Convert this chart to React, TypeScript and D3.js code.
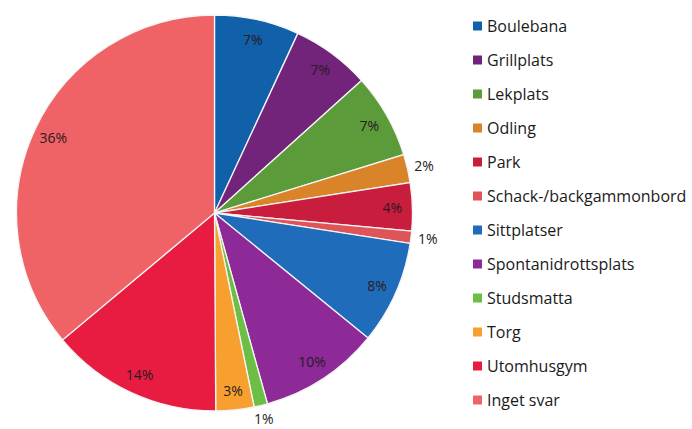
import * as d3 from 'd3';
import { type FC } from 'react';

// Chart data
const categories = [
  'Boulebana',
  'Grillplats',
  'Lekplats',
  'Odling',
  'Park',
  'Schack-/backgammonbord',
  'Sittplatser',
  'Spontanidrottsplats',
  'Studsmatta',
  'Torg',
  'Utomhusgym',
  'Inget svar',
];
const shares = [6.9, 6.4, 6.9, 2.3, 3.9, 1.0, 8.4, 9.8, 1.1, 3.1, 14.0, 36.0];
const labels = ['7%', '7%', '7%', '2%', '4%', '1%', '8%', '10%', '1%', '3%', '14%', '36%'];
const colors = [
  '#1060aa',
  '#72237a',
  '#5c9b3a',
  '#da8429',
  '#c81d3d',
  '#de5459',
  '#1f6dba',
  '#8d2a98',
  '#6cbe45',
  '#f7a02f',
  '#e81c41',
  '#ef6366',
];

interface Slice {
  name: string;
  value: number;
  label: string;
  color: string;
}

const data: Slice[] = categories.map((name, i) => ({
  name,
  value: shares[i],
  label: labels[i],
  color: colors[i],
}));

const WIDTH = 692;
const HEIGHT = 429;
const cx = 214.5;
const cy = 213;
const radius = 198;
const font = '"Open Sans", Lato, sans-serif';

const App: FC = () => {
  const pie = d3
    .pie<Slice>()
    .value((d) => d.value)
    .sort(null);
  const arcs = pie(data);

  const arc = d3.arc<d3.PieArcDatum<Slice>>().innerRadius(0).outerRadius(radius);
  const inner = d3.arc<d3.PieArcDatum<Slice>>().innerRadius(178).outerRadius(178);
  const outer = d3
    .arc<d3.PieArcDatum<Slice>>()
    .innerRadius(radius + 13)
    .outerRadius(radius + 13);

  const legendY = d3
    .scalePoint<string>()
    .domain(categories)
    .range([26, 400]);

  return (
    <div style={{ position: 'absolute', left: 0, top: 0 }}>
      <svg width={WIDTH} height={HEIGHT} style={{ display: 'block', background: '#fff' }}>
        <g transform={`translate(${cx},${cy})`}>
          {arcs.map((d) => (
            <path
              key={d.data.name}
              d={arc(d) || ''}
              fill={d.data.color}
              stroke="#f4f4f4"
              strokeWidth={1.3}
            />
          ))}
          {arcs.map((d) => {
            const small = d.data.value < 3;
            const [x, y] = small ? outer.centroid(d) : inner.centroid(d);
            return (
              <text
                key={d.data.name + '-l'}
                x={x + (small && x > 100 ? 4 : 0)}
                y={y}
                textAnchor="middle"
                dominantBaseline="central"
                fontFamily={font}
                fontSize={14}
                fill={small ? '#222' : '#2a1a22'}
              >
                {d.data.label}
              </text>
            );
          })}
        </g>
        <g>
          {data.map((d) => (
            <g key={d.name + '-k'} transform={`translate(473,${legendY(d.name)})`}>
              <rect x={0} y={-4.5} width={9} height={9} fill={d.color} />
              <text
                x={14}
                y={0}
                dominantBaseline="central"
                fontFamily={font}
                fontSize={16}
                fill="#1a1a1a"
              >
                {d.name}
              </text>
            </g>
          ))}
        </g>
      </svg>
    </div>
  );
};

export default App;
